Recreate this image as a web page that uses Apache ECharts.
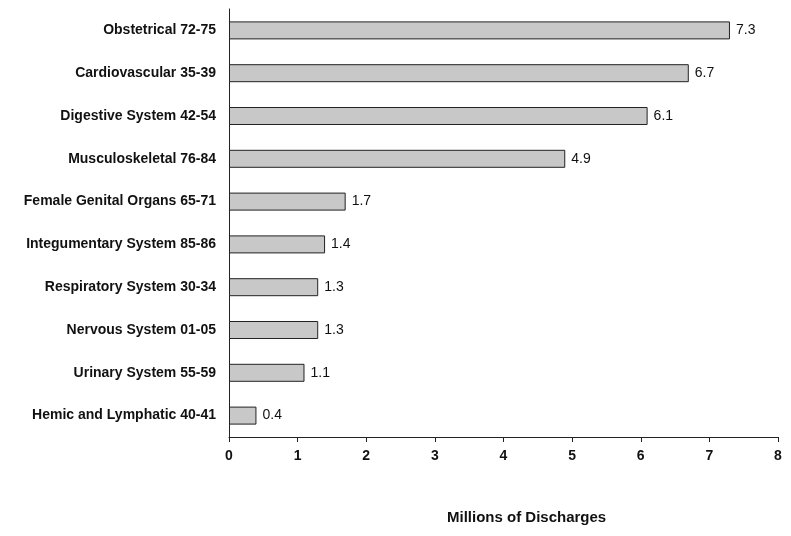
<!DOCTYPE html>
<html>
<head>
<meta charset="utf-8">
<script src="https://cdn.jsdelivr.net/npm/echarts@6/dist/echarts.min.js"></script>
<style>html,body{margin:0;padding:0;background:#fff}#chart{width:791px;height:536px}</style>
</head>
<body>
<div id="chart"></div>
<script>
// top to bottom as drawn
const categories = [
  "Obstetrical 72-75",
  "Cardiovascular 35-39",
  "Digestive System 42-54",
  "Musculoskeletal 76-84",
  "Female Genital Organs 65-71",
  "Integumentary System 85-86",
  "Respiratory System 30-34",
  "Nervous System 01-05",
  "Urinary System 55-59",
  "Hemic and Lymphatic 40-41"
];
const discharges = [7.3, 6.7, 6.1, 4.9, 1.7, 1.4, 1.3, 1.3, 1.1, 0.4];

const chart = echarts.init(document.getElementById("chart"));
chart.setOption({
  animation: false,
  grid: { left: 229, right: 13, top: 9, bottom: 99 },
  graphic: [{
    type: "text", left: 447, top: 510,
    style: { text: "Millions of Discharges", align: "center", fontFamily: "Arial", fontWeight: "bold", fontSize: 15, fill: "#111" }
  }],
  xAxis: {
    type: "value", min: 0, max: 8, interval: 1,
    splitLine: { show: false },
    axisLine: { show: true, lineStyle: { color: "#222" } },
    axisTick: { show: true, inside: false, length: 5, lineStyle: { color: "#222" } },
    axisLabel: { fontFamily: "Arial", fontWeight: "bold", fontSize: 14, color: "#111", margin: 12 }
  },
  yAxis: {
    type: "category", data: categories, inverse: true,
    axisLine: { show: true, lineStyle: { color: "#222" } },
    axisTick: { show: false },
    axisLabel: { fontFamily: "Arial", fontWeight: "bold", fontSize: 14, color: "#111", margin: 13 }
  },
  series: [{
    type: "bar", data: discharges, barWidth: 18,
    itemStyle: { color: "#c8c8c8", borderColor: "#222", borderWidth: 1 },
    label: { show: true, position: "right", distance: 6, fontFamily: "Arial", fontSize: 14, color: "#111" }
  }]
});
</script>
</body>
</html>
